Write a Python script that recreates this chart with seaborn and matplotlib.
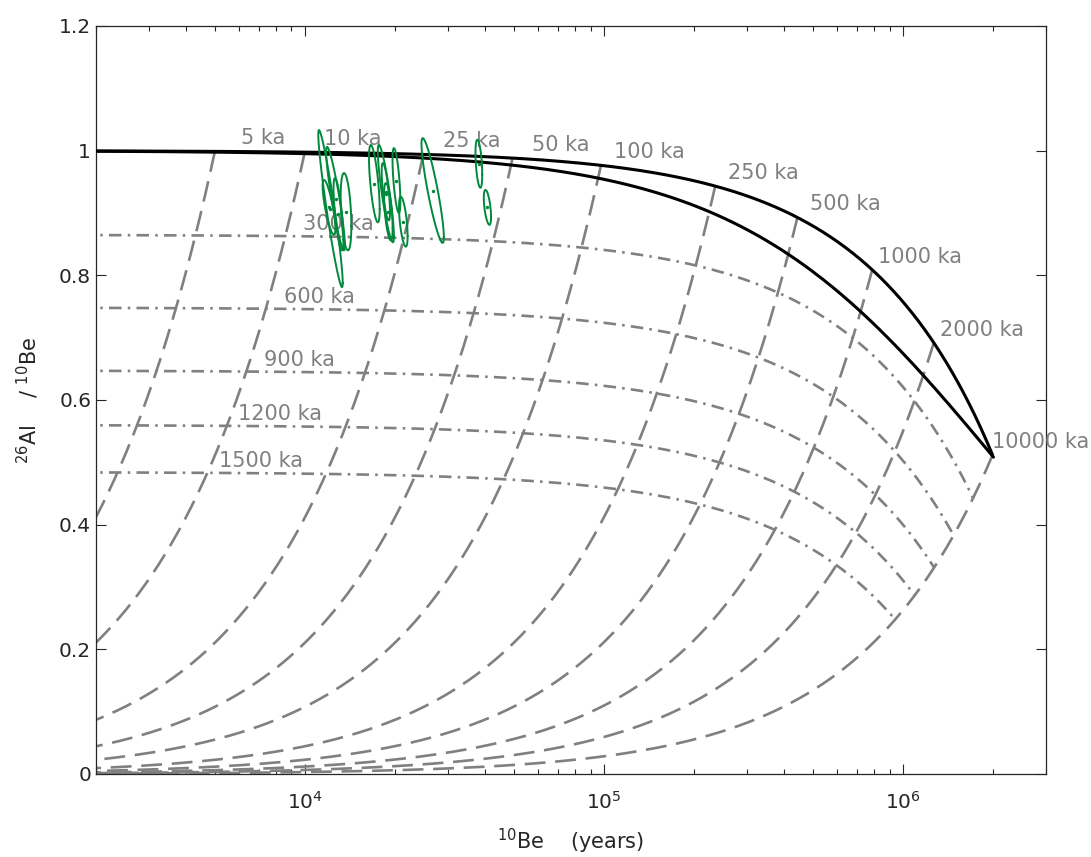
import numpy as np
import pandas as pd
import matplotlib
matplotlib.use("Agg")
import matplotlib.pyplot as plt
import seaborn as sns

# Nuclide half-lives (years)
half_life_be10 = 1.387e6
half_life_al26 = 0.705e6

# Exposure times labelled along the constant-exposure curve (ka)
exposure_ka = [5, 10, 25, 50, 100, 250, 500, 1000, 2000, 10000]
# Burial isochrons (ka)
burial_ka = [300, 600, 900, 1200, 1500]

# Samples: normalised 10Be (years), 26Al/10Be, 1-sigma errors, error correlation
sample_be = [12160, 12640, 12020, 12930, 13700, 17040, 18620, 18980, 20200,
             21300, 18620, 26700, 38100, 40700]
sample_be_err = [0.094, 0.072, 0.049, 0.038, 0.041, 0.041, 0.062, 0.033, 0.030,
                 0.033, 0.032, 0.086, 0.026, 0.028]
sample_ratio = [0.907, 0.923, 0.909, 0.898, 0.902, 0.947, 0.931, 0.902, 0.952,
                0.886, 0.934, 0.936, 0.979, 0.909]
sample_ratio_err = [0.126, 0.083, 0.044, 0.058, 0.062, 0.062, 0.078, 0.046, 0.052,
                    0.040, 0.046, 0.084, 0.0385, 0.028]
sample_rho = [-0.944, -0.905, -0.78, -0.707, -0.37, -0.66, -0.87, -0.58, -0.64,
              -0.58, -0.71, -0.89, -0.45, -0.55]

x_ticks = [1e4, 1e5, 1e6]
x_tick_labels = [r"$10^{4}$", r"$10^{5}$", r"$10^{6}$"]
y_ticks = [0, 0.2, 0.4, 0.6, 0.8, 1.0, 1.2]
y_tick_labels = ["0", "0.2", "0.4", "0.6", "0.8", "1", "1.2"]

lam10 = np.log(2) / half_life_be10
lam26 = np.log(2) / half_life_al26


def exposure(t):
    """Normalised 10Be (years) and 26Al/10Be after continuous exposure t."""
    be = (1 - np.exp(-lam10 * t)) / lam10
    al = (1 - np.exp(-lam26 * t)) / lam26
    return be, al / be


def bury(be, ratio, tb):
    """Decay during burial time tb."""
    return be * np.exp(-lam10 * tb), ratio * np.exp(-(lam26 - lam10) * tb)


GRAY = "#808080"
GREEN = "#00893a"

sns.set_theme(style="white")
plt.rcParams["font.family"] = ["DejaVu Sans"]
plt.rcParams["lines.scale_dashes"] = False
plt.rcParams["mathtext.fontset"] = "dejavusans"

fig = plt.figure(figsize=(10.91, 8.57), dpi=100)
ax = fig.add_axes([0.088, 0.0969, 0.8708, 0.8728])
ax.set_xscale("log")

t_grid = np.logspace(2, np.log10(10000e3), 500)
tb_grid = np.linspace(0, 20e6, 800)

# burial paths from each labelled exposure time
rows = []
for t in exposure_ka:
    be0, r0 = exposure(t * 1e3)
    bx, by = bury(be0, r0, tb_grid)
    rows.append(pd.DataFrame({"be": bx, "ratio": by, "path": f"e{t}"}))
burial_paths = pd.concat(rows, ignore_index=True)
sns.lineplot(data=burial_paths, x="be", y="ratio", units="path", estimator=None,
             sort=False, color=GRAY, lw=1.9, linestyle=(0, (15, 7)), ax=ax,
             zorder=2)

# burial isochrons
rows = []
for tb in burial_ka:
    be0, r0 = exposure(t_grid)
    bx, by = bury(be0, r0, tb * 1e3)
    rows.append(pd.DataFrame({"be": bx, "ratio": by, "path": f"b{tb}"}))
isochrons = pd.concat(rows, ignore_index=True)
sns.lineplot(data=isochrons, x="be", y="ratio", units="path", estimator=None,
             sort=False, color=GRAY, lw=1.9, linestyle=(0, (9, 4.5, 1.8, 4.5)),
             ax=ax, zorder=2)

# constant exposure and steady erosion curves
be_exp, r_exp = exposure(t_grid)
mu = np.concatenate([np.logspace(-2, -10, 500), [0.0]])
be_ero = 1 / (lam10 + mu)
r_ero = (lam10 + mu) / (lam26 + mu)
envelope = pd.concat([
    pd.DataFrame({"be": be_exp, "ratio": r_exp, "path": "exposure"}),
    pd.DataFrame({"be": be_ero, "ratio": r_ero, "path": "erosion"}),
], ignore_index=True)
sns.lineplot(data=envelope, x="be", y="ratio", units="path", estimator=None,
             sort=False, color="black", lw=2.2, ax=ax, zorder=3)

# labels
for t in exposure_ka:
    be0, r0 = exposure(t * 1e3)
    ax.text(be0 * 1.45, r0 + 0.021, f"{t} ka", ha="center", va="center",
            color=GRAY, fontsize=15, zorder=4)
for tb in burial_ka:
    be0, r0 = exposure(10e3)
    bx, by = bury(be0, r0, tb * 1e3)
    ax.text(bx * 1.51, by + 0.019, f"{tb} ka", ha="center", va="center",
            color=GRAY, fontsize=15, zorder=4)

# sample error ellipses
phi = np.linspace(0, 2 * np.pi, 120)
rows = []
for i, (b, be_e, r, r_e, rho) in enumerate(zip(sample_be, sample_be_err, sample_ratio,
                                                sample_ratio_err, sample_rho)):
    ex = b * np.exp(be_e * np.cos(phi))
    ey = r + r_e * (rho * np.cos(phi) + np.sqrt(1 - rho ** 2) * np.sin(phi))
    rows.append(pd.DataFrame({"be": ex, "ratio": ey, "sample": i}))
ellipses = pd.concat(rows, ignore_index=True)
sns.lineplot(data=ellipses, x="be", y="ratio", units="sample", estimator=None,
             sort=False, color=GREEN, lw=1.4, ax=ax, zorder=5)
sns.scatterplot(x=sample_be, y=sample_ratio, color=GREEN, s=6, linewidth=0,
                ax=ax, zorder=6)

ax.set_xlim(2e3, 3e6)
ax.set_ylim(0, 1.2)
ax.set_xticks(x_ticks)
ax.set_xticklabels(x_tick_labels)
ax.set_yticks(y_ticks)
ax.set_yticklabels(y_tick_labels)

for s in ax.spines.values():
    s.set_visible(True)
    s.set_color("#262626")
    s.set_linewidth(0.9)
ax.tick_params(which="both", direction="in", top=True, right=True,
               bottom=True, left=True, colors="#262626", labelsize=14.5,
               width=0.8)
ax.tick_params(which="major", length=7)
ax.tick_params(which="minor", length=3.6)
ax.tick_params(axis="x", which="major", pad=12)
ax.tick_params(axis="y", which="minor", left=False, right=False)

ax.set_xlabel(r"$^{10}$Be    (years)", fontsize=15, color="#262626", labelpad=10)
ax.set_ylabel(r"$^{26}$Al    / $^{10}$Be", fontsize=15, color="#262626", labelpad=13)

fig.savefig("out.png", dpi=100)
